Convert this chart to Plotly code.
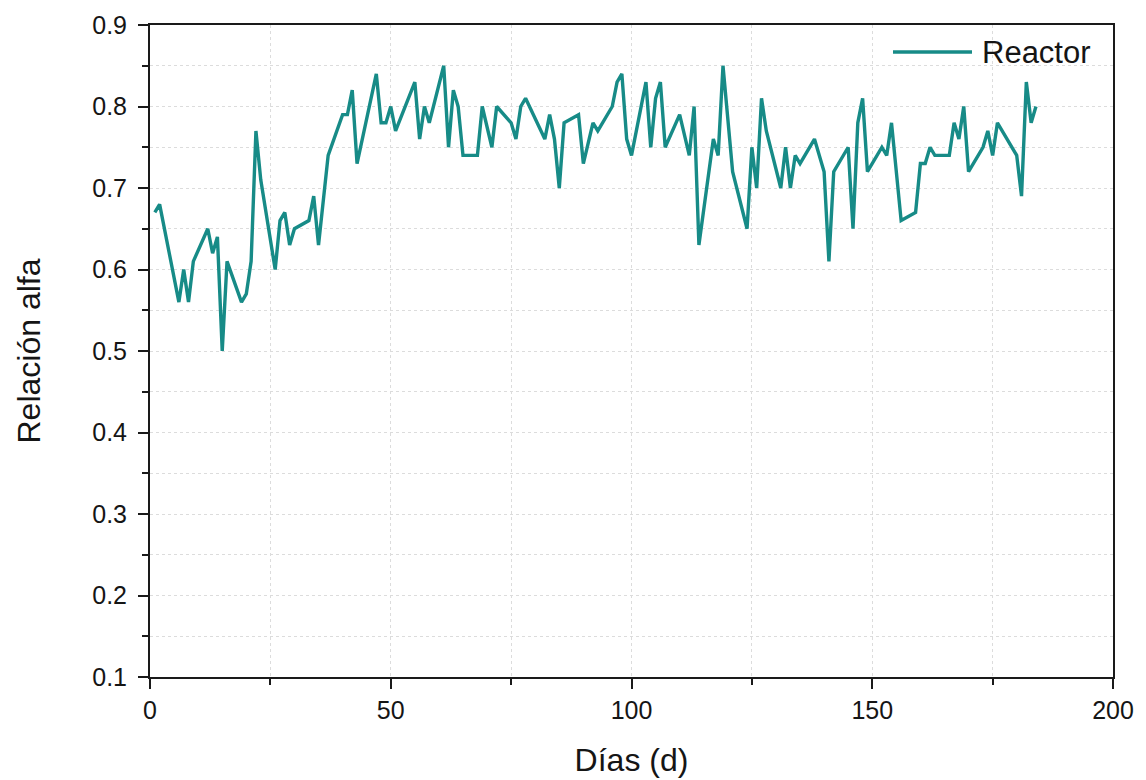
import plotly.graph_objects as go

# Daily alpha ratio of the reactor
dias = [1, 2, 6, 7, 8, 9, 12, 13, 14, 15, 16, 19, 20, 21, 22, 23, 26, 27, 28, 29,
        30, 33, 34, 35, 37, 40, 41, 42, 43, 47, 48, 49, 50, 51, 55, 56, 57, 58, 61,
        62, 63, 64, 65, 68, 69, 71, 72, 75, 76, 77, 78, 82, 83, 84, 85, 86, 89, 90,
        92, 93, 96, 97, 98, 99, 100, 103, 104, 105, 106, 107, 110, 112, 113, 114,
        117, 118, 119, 121, 124, 125, 126, 127, 128, 131, 132, 133, 134, 135, 138,
        140, 141, 142, 145, 146, 147, 148, 149, 152, 153, 154, 156, 159, 160, 161,
        162, 163, 166, 167, 168, 169, 170, 173, 174, 175, 176, 180, 181, 182, 183, 184]
alfa = [0.67, 0.68, 0.56, 0.60, 0.56, 0.61, 0.65, 0.62, 0.64, 0.50, 0.61, 0.56, 0.57,
        0.61, 0.77, 0.71, 0.60, 0.66, 0.67, 0.63, 0.65, 0.66, 0.69, 0.63, 0.74, 0.79,
        0.79, 0.82, 0.73, 0.84, 0.78, 0.78, 0.80, 0.77, 0.83, 0.76, 0.80, 0.78, 0.85,
        0.75, 0.82, 0.80, 0.74, 0.74, 0.80, 0.75, 0.80, 0.78, 0.76, 0.80, 0.81, 0.76,
        0.79, 0.76, 0.70, 0.78, 0.79, 0.73, 0.78, 0.77, 0.80, 0.83, 0.84, 0.76, 0.74,
        0.83, 0.75, 0.81, 0.83, 0.75, 0.79, 0.74, 0.80, 0.63, 0.76, 0.74, 0.85, 0.72,
        0.65, 0.75, 0.70, 0.81, 0.77, 0.70, 0.75, 0.70, 0.74, 0.73, 0.76, 0.72, 0.61,
        0.72, 0.75, 0.65, 0.78, 0.81, 0.72, 0.75, 0.74, 0.78, 0.66, 0.67, 0.73, 0.73,
        0.75, 0.74, 0.74, 0.78, 0.76, 0.80, 0.72, 0.75, 0.77, 0.74, 0.78, 0.74, 0.69,
        0.83, 0.78, 0.80]

serie = "Reactor"
x_ticks = [0, 50, 100, 150, 200]
y_ticks = [0.1, 0.2, 0.3, 0.4, 0.5, 0.6, 0.7, 0.8, 0.9]

FONT = "Liberation Sans, Arial, sans-serif"
LINE = "#178b87"
AXIS = "#1a1a1a"
GRID = "#dcdcdc"
TEXT = "#151515"

fig = go.Figure()
fig.add_trace(go.Scatter(
    x=dias, y=alfa, mode="lines", name=serie,
    line=dict(color=LINE, width=3.4), showlegend=False,
))

# Legend drawn as a sample line plus label in the upper-right corner
fig.add_shape(type="line", xref="paper", yref="paper",
              x0=(893 - 150) / 963, x1=(972 - 150) / 963,
              y0=(677 - 52) / 652, y1=(677 - 52) / 652,
              line=dict(color=LINE, width=3.4))
fig.add_annotation(xref="paper", yref="paper",
                   x=(980 - 150) / 963, y=(677 - 53) / 652,
                   xanchor="left", yanchor="middle", showarrow=False,
                   text=serie, font=dict(family=FONT, size=31, color=TEXT))

axis_common = dict(
    showline=True, linewidth=2, linecolor=AXIS, mirror=True,
    ticks="outside", ticklen=10, tickwidth=2, tickcolor=AXIS,
    showgrid=True, gridcolor=GRID, gridwidth=1, griddash="dot",
    zeroline=False, automargin=False,
    tickfont=dict(family=FONT, size=25, color=TEXT),
)

fig.update_layout(
    width=1146, height=780,
    margin=dict(l=150, r=33, t=25, b=103),
    paper_bgcolor="white", plot_bgcolor="white",
    font=dict(family=FONT, color=TEXT),
    xaxis=dict(
        range=[0, 200], tickvals=x_ticks,
        title=dict(text="Días (d)", font=dict(family=FONT, size=32), standoff=26),
        minor=dict(dtick=25, tick0=0, ticks="outside", ticklen=6, tickwidth=2,
                   tickcolor=AXIS, showgrid=True, gridcolor=GRID, griddash="dot"),
        **axis_common,
    ),
    yaxis=dict(
        range=[0.1, 0.9], tickvals=y_ticks, tickformat=".1f",
        ticklabelstandoff=6,
        title=dict(text="Relación alfa", font=dict(family=FONT, size=32), standoff=42),
        minor=dict(dtick=0.05, tick0=0.1, ticks="outside", ticklen=6, tickwidth=2,
                   tickcolor=AXIS, showgrid=True, gridcolor=GRID, griddash="dot"),
        **axis_common,
    ),
)

fig.write_html("out.html")
